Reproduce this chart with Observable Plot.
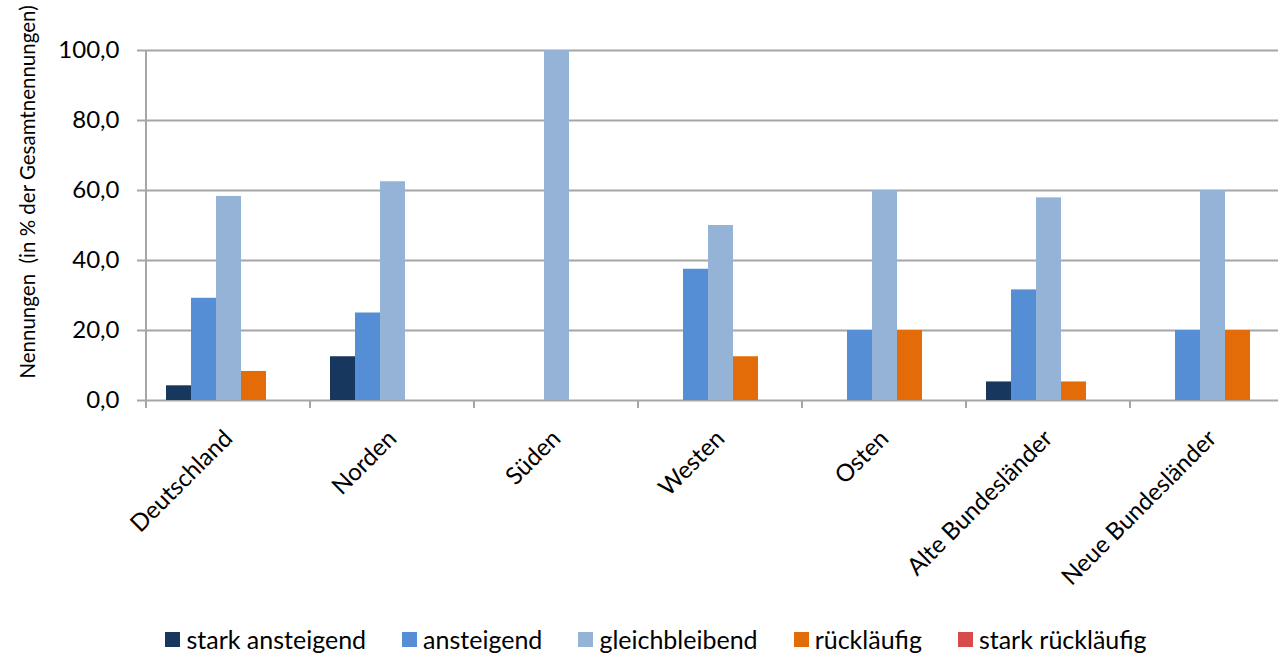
<!DOCTYPE html>
<html>
<head>
<meta charset="utf-8">
<script src="https://cdn.jsdelivr.net/npm/d3@7"></script>
<script src="https://cdn.jsdelivr.net/npm/@observablehq/plot@0.6"></script>
<style>
  html, body { margin: 0; padding: 0; background: #fff; overflow: hidden; }
  body { font-family: Lato, "Open Sans", sans-serif; width: 1278px; height: 654px; position: relative; }
  #chart svg { display: block; max-width: none; }
  #legend { position: absolute; top: 624px; left: 0; width: 1278px; display: flex; justify-content: center; padding-left: 34px; box-sizing: border-box; font-size: 25px; line-height: 30px; color: #000; }
  .item { display: flex; align-items: center; margin: 0 18px; }
  .sw { width: 15px; height: 15px; margin-right: 6px; }
</style>
</head>
<body>
<div id="chart"></div>
<div id="legend"></div>
<script>
const categories = ["Deutschland", "Norden", "Süden", "Westen", "Osten", "Alte Bundesländer", "Neue Bundesländer"];
const series = ["stark ansteigend", "ansteigend", "gleichbleibend", "rückläufig", "stark rückläufig"];
const starkAnsteigend   = [4.2, 12.5, 0, 0, 0, 5.3, 0];
const ansteigend        = [29.2, 25.0, 0, 37.5, 20.0, 31.6, 20.0];
const gleichbleibend    = [58.3, 62.5, 100.0, 50.0, 60.0, 57.9, 60.0];
const ruecklaeufig      = [8.3, 0, 0, 12.5, 20.0, 5.3, 20.0];
const starkRuecklaeufig = [0, 0, 0, 0, 0, 0, 0];
const colors = ["#17375e", "#558ed5", "#95b3d7", "#e36c09", "#d84b4b"];
const yTicks = [0, 20, 40, 60, 80, 100];
const yTitle = "Nennungen  (in % der Gesamtnennungen)";

const seriesValues = [starkAnsteigend, ansteigend, gleichbleibend, ruecklaeufig, starkRuecklaeufig];
const data = categories.flatMap((c, i) => series.map((s, j) => ({category: c, series: s, value: seriesValues[j][i]})));

const grid = "#a6a6a6";
const fmt = d => d.toFixed(1).replace(".", ",");

const plot = Plot.plot({
  width: 1295,
  height: 615,
  marginLeft: 145,
  marginRight: 0,
  marginTop: 50,
  marginBottom: 215,
  style: {fontFamily: "Lato, 'Open Sans', sans-serif", color: "#000", background: "#fff", maxWidth: "none"},
  fx: {domain: categories, padding: 0, label: null},
  x: {domain: series, paddingInner: 0, paddingOuter: 0.7, axis: null},
  y: {domain: [0, 100], label: null},
  color: {domain: series, range: colors},
  marks: [
    Plot.ruleY(yTicks, {stroke: grid, strokeWidth: 2}),
    Plot.axisY({ticks: yTicks, tickFormat: fmt, tickSize: 9, tickPadding: 18, fontSize: 24, stroke: grid, strokeWidth: 2, label: null}),
    Plot.axisFx({anchor: "bottom", tickRotate: -45, tickSize: 0, tickPadding: 34, fontSize: 24, label: null}),
    Plot.barY(data, {fx: "category", x: "series", y: "value", fill: "series"})
  ]
});

document.getElementById("chart").appendChild(plot);

// category boundary ticks and left axis line, from Plot's own scales
const fx = plot.scale("fx");
const y = plot.scale("y");
const svg = d3.select(plot);
const y0 = y.apply(0), y100 = y.apply(100);
const bounds = categories.map(c => fx.apply(c));
const g = svg.append("g").attr("stroke", grid).attr("stroke-width", 2);
g.append("line").attr("x1", bounds[0]).attr("x2", bounds[0]).attr("y1", y100).attr("y2", y0 + 8);
bounds.slice(1).forEach(x => {
  g.append("line").attr("x1", x).attr("x2", x).attr("y1", y0).attr("y2", y0 + 8);
});
svg.append("text")
  .attr("transform", `translate(30,${(y0 + y100) / 2 - 33}) rotate(-90)`)
  .attr("text-anchor", "middle")
  .attr("dominant-baseline", "middle")
  .style("white-space", "pre")
  .attr("font-size", 20.5)
  .attr("fill", "#000")
  .text(yTitle);

// legend
const legend = d3.select("#legend");
series.forEach((s, i) => {
  const it = legend.append("div").attr("class", "item");
  it.append("div").attr("class", "sw").style("background", colors[i]);
  it.append("span").text(s);
});
</script>
</body>
</html>
